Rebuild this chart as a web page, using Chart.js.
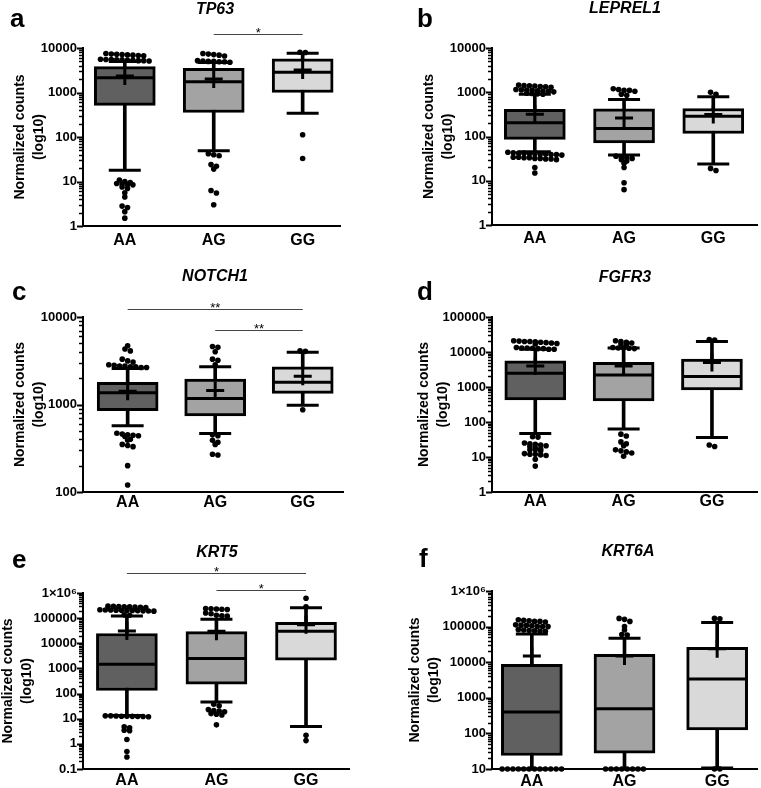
<!DOCTYPE html>
<html>
<head>
<meta charset="utf-8">
<script src="https://cdn.jsdelivr.net/npm/chart.js@4.4.1/dist/chart.umd.min.js"></script>
<style>
  html, body { margin: 0; padding: 0; background: #fff; overflow: hidden; }
  body { width: 761px; height: 788px; position: relative; font-family: 'Liberation Sans', Arial, sans-serif; }
  canvas { position: absolute; }
  .letter { position: absolute; font-size: 26px; font-weight: bold; line-height: 26px; }
  .gene { position: absolute; width: 200px; text-align: center; font-size: 16px; font-weight: bold; font-style: italic; line-height: 16px; }
</style>
</head>
<body>
<script>
// ---- data ----
const groups = ['AA', 'AG', 'GG'];
const genes = ['TP63', 'LEPREL1', 'NOTCH1', 'FGFR3', 'KRT5', 'KRT6A'];
const letters = ['a', 'b', 'c', 'd', 'e', 'f'];

const axisMin = [1, 1, 100, 1, 0.1, 10];
const axisMax = [10000, 10000, 10000, 100000, 1000000, 1000000];

// one row per gene, columns AA / AG / GG
const q1Values     = [[515, 355, 1000], [86, 72, 117], [850, 740, 1340], [425, 400, 820], [132, 235, 2140], [24, 28, 126]];
const medianValues = [[2150, 1750, 2850], [204, 152, 288], [1360, 1170, 1800], [2460, 2200, 2000], [1480, 2500, 30000], [400, 490, 3400]];
const q3Values     = [[3800, 3500, 5700], [410, 420, 430], [1790, 1950, 2700], [5600, 5100, 6300], [24500, 29000, 68000], [8700, 16600, 26000]];
const whiskerLow   = [[18, 49, 340], [45, 38, 24], [570, 465, 980], [47, 63, 36], [13.5, 46, 4.9], [10, 10, 10.6]];
const whiskerHigh  = [[5000, 4700, 7600], [900, 690, 790], [2580, 2700, 3950], [12000, 13000, 20000], [123000, 91000, 260000], [62000, 47000, 130000]];
const meanValues   = [[2350, 2000, 3200], [320, 263, 316], [1420, 1450, 2100], [4000, 4000, 5000], [31000, 30000, 55000], [15000, 15000, 24000]];

const outlierValues = [
  [ // TP63
    [7500, 7300, 7200, 7100, 7000, 6900, 6800, 6700, 5600, 5500, 5500, 5400, 5400, 5300, 5300, 5200, 5200, 5100,
     10.8, 10, 9.5, 9, 8.8, 8.6, 8.4, 7.5, 7, 5.6, 4.5, 2.8, 2.6, 2.1, 1.5],
    [7500, 7300, 7100, 6900, 6600, 5200, 5100, 5000, 5000, 4900, 4900, 4800, 42, 40, 38, 24, 22, 19, 6.3, 5.5, 3.0],
    [8000, 7900, 112, 33]
  ],
  [ // LEPREL1
    [1450, 1420, 1400, 1380, 1350, 1330, 1300, 1150, 1130, 1120, 1100, 1080, 1060, 1050, 1020, 950, 940, 920, 900,
     44, 43, 42, 42, 41, 41, 40, 40, 39, 39, 38, 34, 34, 33, 33, 32, 32, 31, 31, 30, 20, 15],
    [1200, 1150, 1100, 1100, 1050, 900, 850, 36, 34, 33, 32, 30, 28, 25, 20, 9, 6.3],
    [1000, 900, 19, 17]
  ],
  [ // NOTCH1
    [4700, 4300, 4100, 3300, 3150, 3050, 2850, 2800, 2750, 2750, 2700, 2700, 2650, 2650,
     470, 460, 450, 445, 440, 430, 400, 390, 350, 340, 330, 200, 120],
    [4600, 4500, 4000, 3300, 3200, 2850, 450, 440, 390, 370, 350, 270, 265],
    [4100, 4050, 870]
  ],
  [ // FGFR3
    [21000, 20500, 20000, 20000, 19500, 19000, 18500, 18000, 17500, 17000, 13500, 13000, 13000, 12800, 12500, 12500, 12000, 12000,
     38, 37, 25, 24, 23, 22, 21, 20, 18, 17, 16, 16, 15, 12.5, 12, 12, 11.5, 11, 8.6, 5.5],
    [21000, 20000, 19000, 18000, 17000, 16000, 13500, 13000, 13000, 12800, 12500, 45, 40, 27, 24, 21, 16, 15, 14, 13, 10.5],
    [22500, 22000, 22, 20]
  ],
  [ // KRT5
    [300000, 295000, 290000, 285000, 280000, 275000, 270000, 265000,
     215000, 212000, 210000, 208000, 205000, 202000, 200000, 198000, 195000, 192000, 190000, 135000, 130000,
     13, 13, 12.8, 12.6, 12.5, 12.4, 12.3, 12.2, 12, 4.8, 4.4, 3.5, 3.3, 1.5, 0.5, 0.3],
    [240000, 235000, 230000, 225000, 220000, 160000, 150000, 130000, 125000, 120000, 38, 33, 23, 21, 20, 19, 16, 15, 14, 5.7],
    [620000, 280000, 2.2, 1.35]
  ],
  [ // KRT6A
    [155000, 150000, 145000, 140000, 140000, 135000, 112000, 110000, 108000, 105000, 102000, 100000, 100000,
     82000, 80000, 78000, 76000, 75000, 74000,
     10, 10, 10, 10, 10, 10, 10, 10, 10, 10, 10, 10],
    [170000, 160000, 140000, 100000, 80000, 60000, 58000, 10, 10, 10, 10, 10, 10, 10, 10],
    [170000, 165000, 10, 10]
  ]
];

// significance comparisons: [from group, to group, label]
const sigPairs = [
  [[1, 2, '*']],
  [],
  [[0, 2, '**'], [1, 2, '**']],
  [],
  [[0, 2, '*'], [1, 2, '*']],
  []
];

// ---- layout ----
const plotRects = [[83, 48, 340, 226], [492, 48, 757, 225], [83, 317, 343, 492], [492, 317, 757, 492], [83, 593, 349, 769], [492, 591, 757, 769]];
const xMin = [-0.47, -0.48, -0.51, -0.49, -0.49, -0.43];
const xMax = [2.42, 2.49, 2.46, 2.51, 2.48, 2.43];
const xTickPad = [5, 4, 1, 0, 2, 3];
const yAxisW = [80, 80, 80, 80, 83, 90];
const yTitlePad = [7, 7, 7, 2, -2, 3];
const sigOffsets = [[-14], [], [-8, 13], [], [-20, -3], []];
const letterPos = [[10, 5], [417, 5], [12, 278], [417, 278], [12, 546], [419, 545]];
const genePos = [[215, 1], [625, 0], [215, 268], [625, 269], [217, 544], [628, 543]];
const boxColors = ['#606060', '#a3a3a3', '#d9d9d9'];
const X_AXIS_H = 32, PAD_TOP = 34, PAD_RIGHT = 4, BOX_W = 61, DOT = 5.4, ROW_GAP = 3.2;

Chart.defaults.font.family = "'Liberation Sans', Arial, sans-serif";
Chart.defaults.color = '#000';

const fmtLog = (v) => (v >= 1000000 ? '1×10⁶' : String(v));
const isPow10 = (v) => Math.abs(Math.log10(v) - Math.round(Math.log10(v))) < 1e-9;

// GraphPad-like scatter: close values share a row, each row centred on the box
const swarm = (values, pxX, pxY) => {
  const rows = [];
  values.slice().sort((a, b) => b - a).forEach((v) => {
    const y = Math.log10(v) * pxY;
    const row = rows[rows.length - 1];
    if (row && row.y0 - y < ROW_GAP) row.items.push(v);
    else rows.push({ y0: y, items: [v] });
  });
  const out = [];
  rows.forEach((r) => {
    r.items.forEach((v, j) => out.push({ x: ((j - (r.items.length - 1) / 2) * DOT) / pxX, y: v }));
  });
  return out;
};

const axisTicksPlugin = {
  id: 'logTickMarks',
  afterDraw(chart) {
    const scale = chart.scales.y;
    const ctx = chart.ctx;
    ctx.save();
    ctx.strokeStyle = '#000';
    scale.ticks.forEach((t) => {
      const y = Math.round(scale.getPixelForValue(t.value)) + 0.5;
      const len = t.major ? 6 : 4;
      ctx.lineWidth = t.major ? 2 : 1.5;
      ctx.beginPath();
      ctx.moveTo(scale.right - len, y);
      ctx.lineTo(scale.right, y);
      ctx.stroke();
    });
    ctx.restore();
  }
};

const sigPlugin = {
  id: 'sigBars',
  afterDraw(chart, args, opts) {
    const { ctx, chartArea, scales } = chart;
    ctx.save();
    (opts.pairs || []).forEach((p, k) => {
      const y = Math.round(chartArea.top + opts.offsets[k]) + 0.5;
      const x1 = scales.x.getPixelForValue(p[0]);
      const x2 = scales.x.getPixelForValue(p[1]);
      ctx.strokeStyle = '#444';
      ctx.lineWidth = 1;
      ctx.beginPath();
      ctx.moveTo(x1, y);
      ctx.lineTo(x2, y);
      ctx.stroke();
      ctx.fillStyle = '#000';
      ctx.font = "13px 'Liberation Sans', Arial, sans-serif";
      ctx.textAlign = 'center';
      ctx.textBaseline = 'alphabetic';
      ctx.fillText(p[2], (x1 + x2) / 2, y + 2);
    });
    ctx.restore();
  }
};

genes.forEach((gene, i) => {
  const [L, T, R, B] = plotRects[i];
  const canvas = document.createElement('canvas');
  const left = L - yAxisW[i];
  const top = T - PAD_TOP;
  canvas.width = R - left + PAD_RIGHT;
  canvas.height = PAD_TOP + (B - T) + X_AXIS_H;
  canvas.style.left = left + 'px';
  canvas.style.top = top + 'px';
  document.body.appendChild(canvas);

  const letter = document.createElement('div');
  letter.className = 'letter';
  letter.textContent = letters[i];
  letter.style.left = letterPos[i][0] + 'px';
  letter.style.top = letterPos[i][1] + 'px';
  document.body.appendChild(letter);

  const title = document.createElement('div');
  title.className = 'gene';
  title.textContent = gene;
  title.style.left = (genePos[i][0] - 100) + 'px';
  title.style.top = genePos[i][1] + 'px';
  document.body.appendChild(title);

  const pxX = (R - L) / (xMax[i] - xMin[i]);
  const pxY = (B - T) / Math.log10(axisMax[i] / axisMin[i]);

  const dots = [];
  groups.forEach((g, k) => {
    swarm(outlierValues[i][k], pxX, pxY).forEach((p) => dots.push({ x: k + p.x, y: p.y }));
  });

  const datasets = [
    {
      type: 'bar',
      data: groups.map((g, k) => ({ x: k, y: [whiskerLow[i][k], whiskerHigh[i][k]] })),
      backgroundColor: '#000',
      borderWidth: 0,
      grouped: false,
      barPercentage: 1,
      categoryPercentage: 1,
      maxBarThickness: 3,
      order: 5
    },
    {
      type: 'bar',
      data: groups.map((g, k) => ({ x: k, y: [q1Values[i][k], q3Values[i][k]] })),
      backgroundColor: boxColors,
      borderColor: '#000',
      borderWidth: 3,
      borderSkipped: false,
      grouped: false,
      barPercentage: 1,
      categoryPercentage: 1,
      maxBarThickness: BOX_W,
      order: 4
    },
    {
      type: 'scatter',
      data: groups.flatMap((g, k) => [{ x: k, y: whiskerLow[i][k] }, { x: k, y: whiskerHigh[i][k] }]),
      pointStyle: 'line',
      pointRadius: 16,
      pointBorderWidth: 3,
      pointBorderColor: '#000',
      clip: false,
      order: 3
    },
    {
      type: 'scatter',
      data: groups.map((g, k) => ({ x: k, y: medianValues[i][k] })),
      pointStyle: 'line',
      pointRadius: BOX_W / 2 - 1,
      pointBorderWidth: 3,
      pointBorderColor: '#000',
      clip: false,
      order: 2
    },
    {
      type: 'scatter',
      data: groups.map((g, k) => ({ x: k, y: meanValues[i][k] })),
      pointStyle: 'cross',
      pointRadius: 9,
      pointBorderWidth: 3,
      pointBorderColor: '#000',
      clip: false,
      order: 1
    },
    {
      type: 'scatter',
      data: dots,
      pointStyle: 'circle',
      pointRadius: 2.8,
      pointBorderWidth: 0,
      pointBackgroundColor: '#000',
      clip: false,
      order: 0
    }
  ];

  new Chart(canvas, {
    type: 'bar',
    data: { datasets },
    options: {
      responsive: false,
      animation: false,
      devicePixelRatio: 1,
      layout: { autoPadding: false, padding: { top: PAD_TOP, right: PAD_RIGHT, left: 0, bottom: 0 } },
      plugins: {
        legend: { display: false },
        tooltip: { enabled: false },
        sigBars: { pairs: sigPairs[i], offsets: sigOffsets[i] }
      },
      scales: {
        x: {
          type: 'linear',
          offset: false,
          min: xMin[i],
          max: xMax[i],
          afterBuildTicks: (s) => { s.ticks = groups.map((g, k) => ({ value: k })); },
          afterFit: (s) => { s.height = X_AXIS_H; },
          grid: { display: false, drawTicks: false },
          border: { display: true, color: '#000', width: 2 },
          ticks: {
            callback: (v) => groups[v] || '',
            font: { size: 16, weight: 'bold' },
            color: '#000',
            padding: xTickPad[i],
            autoSkip: false,
            maxRotation: 0
          }
        },
        y: {
          type: 'logarithmic',
          min: axisMin[i],
          max: axisMax[i],
          afterBuildTicks: (s) => {
            const t = [];
            const lo = Math.floor(Math.log10(s.min) + 1e-9);
            const hi = Math.ceil(Math.log10(s.max) - 1e-9);
            for (let e = lo; e <= hi; e++) {
              for (let m = 1; m <= 9; m++) {
                const v = +(m * Math.pow(10, e)).toPrecision(6);
                if (v >= s.min * 0.999 && v <= s.max * 1.001) t.push({ value: v, major: m === 1 });
              }
            }
            s.ticks = t;
          },
          afterFit: (s) => { s.width = yAxisW[i]; },
          grid: { display: false, drawTicks: false },
          border: { display: true, color: '#000', width: 2 },
          ticks: {
            callback: (v) => (isPow10(v) ? fmtLog(v) : ''),
            font: { size: 13, weight: 'bold' },
            color: '#000',
            padding: 6,
            autoSkip: false
          },
          title: {
            display: true,
            text: ['Normalized counts', '(log10)'],
            font: { size: 14, weight: 'bold', lineHeight: 1.4 },
            color: '#000',
            padding: { top: yTitlePad[i], bottom: 0 }
          }
        }
      }
    },
    plugins: [axisTicksPlugin, sigPlugin]
  });
});
</script>
</body>
</html>
